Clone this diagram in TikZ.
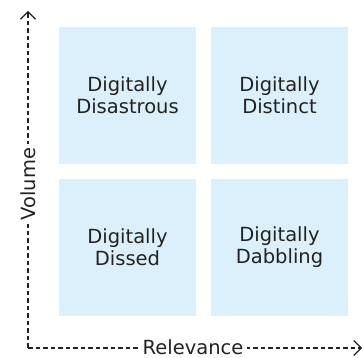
\documentclass[tikz,border=0pt]{standalone}
\usepackage{fontspec}
\setmainfont{DejaVu Sans}
\usetikzlibrary{arrows.meta}
\definecolor{boxblue}{HTML}{DCF0FB}
\definecolor{txt}{HTML}{222222}
\begin{document}
\begin{tikzpicture}[x=1pt,y=1pt,
  quad/.style={fill=boxblue, minimum width=137pt, minimum height=137pt, inner sep=0pt, align=center, text=txt, font=\fontsize{19.5}{22}\selectfont},
  axis/.style={dashed, dash pattern=on 4.5pt off 3pt, line width=1.1pt, draw=txt, -{Straight Barb[length=7.5pt,width=15pt,line width=1.1pt]}},
  axlabel/.style={fill=white, inner xsep=4pt, inner ysep=0.5pt, text=txt, font=\fontsize{19.5}{22}\selectfont}]
\useasboundingbox (0,0) rectangle (364,358);
\node[quad] (tl) at (127.5,262.5) {Digitally\\Disastrous};
\node[quad] (tr) at (279.5,262.5) {Digitally\\Distinct};
\node[quad] (bl) at (127.5,110.5) {Digitally\\Dissed};
\node[quad] (br) at (279.5,110.5) {Digitally\\Dabbling};
\coordinate (o) at (28,10);
\coordinate (ytip) at (28,347);
\coordinate (xtip) at (362,10);
\draw[axis] (o) -- (ytip);
\draw[axis] (o) -- (xtip);
\node[axlabel, rotate=90] (vol) at (28,174) {Volume};
\node[axlabel] (rel) at (193,10.5) {Relevance};
\end{tikzpicture}
\end{document}
